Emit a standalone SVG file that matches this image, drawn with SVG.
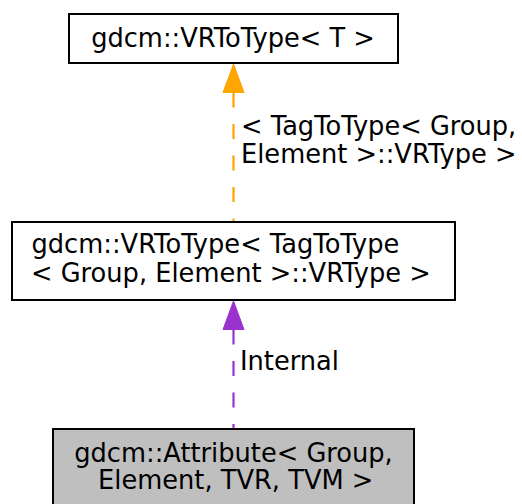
<svg xmlns="http://www.w3.org/2000/svg" width="522" height="504" viewBox="0 0 522 504">
<style>
text { font-family: "DejaVu Sans", "Liberation Sans", sans-serif; font-size: 25.7px; fill: #000; }
.box { fill: #fff; stroke: #000; stroke-width: 2; }
.cur { fill: #bfbfbf; stroke: #000; stroke-width: 2; }
.dash { fill: none; stroke-width: 2.2; stroke-dasharray: 15,16.5; }
.mid { text-anchor: middle; }
</style>
<rect width="522" height="504" fill="#fff"/>
<g id="connectors">
  <g id="edge-orange">
    <line class="dash" x1="233.5" y1="92.5" x2="233.5" y2="221" stroke="#ffa500"/>
    <polygon points="233.5,64 223,92.5 244,92.5" fill="#ffa500" stroke="#ffa500" stroke-width="1"/>
    <text x="241" y="135">&lt; TagToType&lt; Group,</text>
    <text x="241" y="163">Element &gt;::VRType &gt;</text>
  </g>
  <g id="edge-purple">
    <line class="dash" x1="233.5" y1="329.5" x2="233.5" y2="428" stroke="#9a32cd"/>
    <polygon points="233.5,301 223,329.5 244,329.5" fill="#9a32cd" stroke="#9a32cd" stroke-width="1"/>
    <text x="240" y="370">Internal</text>
  </g>
</g>
<g id="node-vrtotype-t">
  <rect class="box" x="69" y="14" width="329" height="49"/>
  <text class="mid" x="233" y="46.5">gdcm::VRToType&lt; T &gt;</text>
</g>
<g id="node-vrtotype-tagtotype">
  <rect class="box" x="12" y="222" width="443" height="78"/>
  <text x="31.5" y="253">gdcm::VRToType&lt; TagToType</text>
  <text x="31" y="281.5">&lt; Group, Element &gt;::VRType &gt;</text>
</g>
<g id="node-attribute">
  <rect class="cur" x="53" y="429" width="361" height="90"/>
  <text class="mid" x="233.5" y="461.5">gdcm::Attribute&lt; Group,</text>
  <text class="mid" x="235.7" y="488.5">Element, TVR, TVM &gt;</text>
</g>
</svg>
